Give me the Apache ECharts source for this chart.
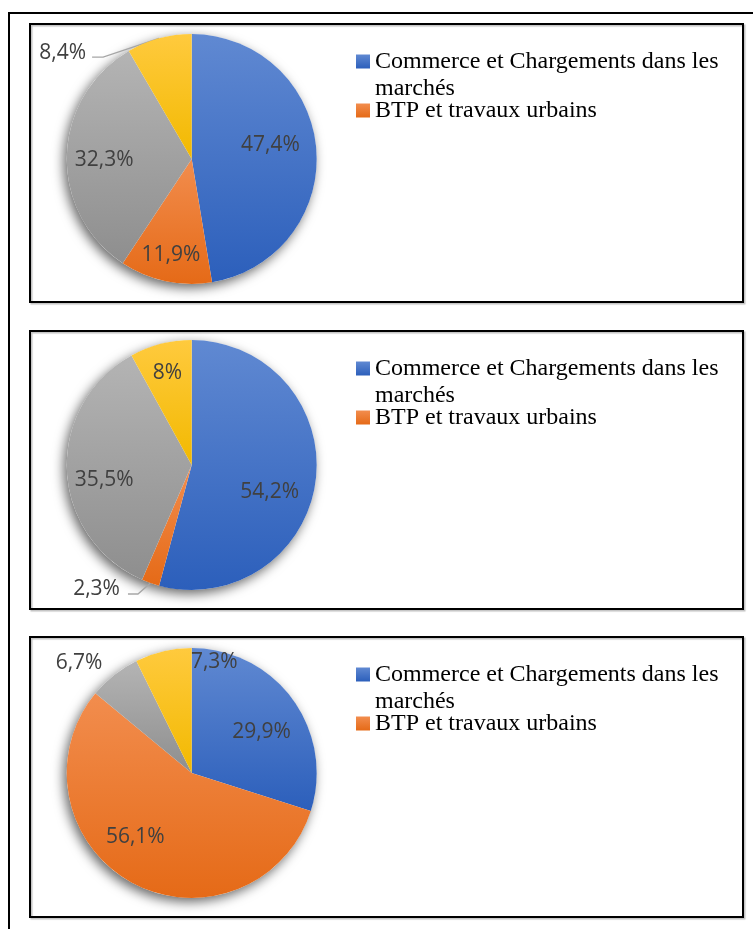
<!DOCTYPE html>
<html><head><meta charset="utf-8">
<script src="https://cdn.jsdelivr.net/npm/echarts@6/dist/echarts.min.js"></script>
<style>html,body{margin:0;padding:0;background:#fff}#c{width:753px;height:929px}</style>
</head><body><div id="c"></div>
<script>
// ---------- data ----------
const categories = ['Commerce et Chargements dans les marchés', 'BTP et travaux urbains', 'Catégorie 3', 'Catégorie 4'];
const legendNames = ['Commerce et Chargements dans les marchés', 'BTP et travaux urbains'];
const values1 = [47.4, 11.9, 32.3, 8.4];
const values2 = [54.2, 2.3, 35.5, 8];
const values3 = [29.9, 56.1, 6.7, 7.3];

// ---------- styles / layout ----------
const gradients = [['#6089d2', '#2c5fbb'], ['#f28d4e', '#e56a17'], ['#b4b4b4', '#8e8e8e'], ['#ffca3e', '#f2b900']];
const panels = [
  { top: 24, bottom: 302, cy: 159, values: values1 },
  { top: 331, bottom: 609, cy: 465, values: values2 },
  { top: 637, bottom: 917, cy: 773, values: values3 }
];
const CX = 191.7, R = 125, LH = 27, LABEL_DY = 2;
// inside labels: offset from default centre; outside: offset from sector edge point + leader points
const placement = [
  [{ off: [13.5, -11] }, { off: [-7, 30] }, { off: [-22, 1] }, { out: [-73, 12.7], line: [[-56, 18.7], [-67, 18.7]] }],
  [{ off: [13, 16] }, { out: [-30.5, 4], line: [[-12.5, 11], [-22.5, 11]] }, { off: [-22, 10] }, { off: [-8, -31] }],
  [{ off: [17, -4] }, { off: [-25, 5] }, { off: [-72, -61] }, { off: [37.5, -49] }]
];

function fmt(v) { return String(v).replace('.', ',') + '%'; }
function grad(i) {
  return new echarts.graphic.LinearGradient(0, 0, 0, 1, [
    { offset: 0, color: gradients[i][0] }, { offset: 1, color: gradients[i][1] }
  ]);
}

const chart = echarts.init(document.getElementById('c'), null, { renderer: 'canvas' });

const series = [];
const legends = [];
const graphics = [{
  type: 'rect', shape: { x: 9, y: 13, width: 800, height: 1000 }, silent: true,
  style: { fill: 'none', stroke: '#000', lineWidth: 2 }, z: 0
}];

panels.forEach(function (p, pi) {
  graphics.push({
    type: 'rect', shape: { x: 30, y: p.top, width: 713, height: p.bottom - p.top }, silent: true,
    style: { fill: 'none', stroke: '#000', lineWidth: 2, shadowColor: 'rgba(0,0,0,0.25)', shadowOffsetX: 1.5, shadowOffsetY: 1.5, shadowBlur: 1 }, z: 0
  });
  const total = p.values.reduce(function (a, b) { return a + b; }, 0);
  // soft shadow under the pie
  series.push({
    type: 'pie', name: 'shadow' + pi, silent: true, z: 1,
    center: [CX, p.cy], radius: R,
    label: { show: false }, labelLine: { show: false }, legendHoverLink: false,
    itemStyle: { color: '#fff', shadowBlur: 12, shadowColor: 'rgba(0,0,0,0.6)', shadowOffsetX: -3, shadowOffsetY: 4 },
    emphasis: { disabled: true },
    data: [{ value: total, name: '__shadow' + pi }]
  });
  const place = placement[pi];
  series.push({
    type: 'pie', name: 'pie' + pi, z: 2,
    center: [CX, p.cy], radius: R, startAngle: 90, clockwise: true,
    avoidLabelOverlap: false,
    emphasis: { disabled: true },
    label: {
      show: true, position: 'inside', fontFamily: 'Open Sans', fontSize: 21, color: '#404040',
      formatter: function (prm) { return fmt(prm.value); }
    },
    labelLine: { show: false },
    itemStyle: { borderWidth: 0 },
    labelLayout: function (prm) {
      const pl = place[prm.dataIndex];
      if (!pl) return {};
      if (pl.out && prm.labelLinePoints) {
        const p0 = prm.labelLinePoints[0];
        return {
          x: p0[0] + pl.out[0], y: p0[1] + pl.out[1] + LABEL_DY, align: 'right', verticalAlign: 'middle',
          labelLinePoints: [
            [p0[0], p0[1]],
            [p0[0] + pl.line[0][0], p0[1] + pl.line[0][1]],
            [p0[0] + pl.line[1][0], p0[1] + pl.line[1][1]]
          ]
        };
      }
      const r = prm.labelRect;
      return {
        x: r.x + r.width / 2 + pl.off[0], y: r.y + r.height / 2 + pl.off[1] + LABEL_DY,
        align: 'center', verticalAlign: 'middle'
      };
    },
    data: categories.map(function (c, i) {
      const d = { name: c, value: p.values[i], itemStyle: { color: grad(i) } };
      if (place[i].out) {
        d.label = { position: 'outside' };
        d.labelLine = { show: true, length: 8, length2: 8, lineStyle: { color: '#a6a6a6', width: 1.3 } };
      }
      return d;
    })
  });
  legends.push({
    left: 356, top: p.top + 30.5 + 7 - 1.5 * LH, orient: 'vertical', padding: 0,
    itemWidth: 14, itemHeight: 14, itemGap: 49 - 2 * LH, icon: 'rect',
    selectedMode: false,
    textStyle: { fontFamily: 'Liberation Serif', fontSize: 24, color: '#000', lineHeight: LH },
    formatter: function (n) { return n === legendNames[0] ? ' \nCommerce et Chargements dans les\nmarchés' : n; },
    data: legendNames
  });
});

chart.setOption({
  animation: false,
  backgroundColor: '#fff',
  graphic: graphics,
  legend: legends,
  series: series
});
</script>
</body></html>
